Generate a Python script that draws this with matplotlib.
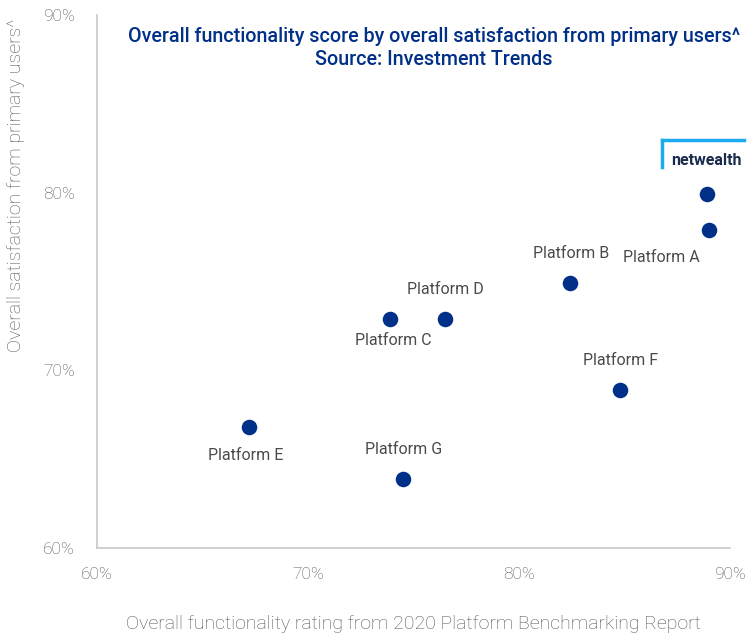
import matplotlib
matplotlib.use("Agg")
import matplotlib.pyplot as plt
from matplotlib.ticker import FuncFormatter

platforms = ["netwealth", "Platform A", "Platform B", "Platform C", "Platform D",
             "Platform E", "Platform F", "Platform G"]
functionality = [88.9, 89.0, 82.4, 73.9, 76.5, 67.2, 84.8, 74.5]
satisfaction = [79.9, 77.9, 74.9, 72.9, 72.9, 66.8, 68.9, 63.9]
x_ticks = [60, 70, 80, 90]
y_ticks = [60, 70, 80, 90]

label_offsets = {
    "Platform A": (-48, -28),
    "Platform B": (1, 30),
    "Platform C": (3, -22),
    "Platform D": (0, 29),
    "Platform E": (-3, -28),
    "Platform F": (0, 29),
    "Platform G": (1, 29),
}

navy = "#003087"
grey = "#555555"
plt.rcParams['font.family'] = ['Roboto', 'DejaVu Sans']

fig = plt.figure(figsize=(7.48, 6.33), dpi=100)
ax = fig.add_axes([0.1297, 0.1343, 0.8463, 0.842])

ax.scatter(functionality, satisfaction, s=125, color=navy, zorder=3, linewidths=0)

for name, xv, yv in zip(platforms, functionality, satisfaction):
    if name in label_offsets:
        ax.annotate(name, (xv, yv), xytext=label_offsets[name], textcoords="offset pixels",
                    ha="center", va="center", fontsize=11.5, color="#4a4a4a",
                    fontweight="normal")

ax.set_xlim(60, 90)
ax.set_ylim(60, 90)
ax.set_xticks(x_ticks)
ax.set_yticks(y_ticks)
fmt = FuncFormatter(lambda v, p: f"{v:.0f}%")
ax.xaxis.set_major_formatter(fmt)
ax.yaxis.set_major_formatter(fmt)
ax.tick_params(length=0, labelsize=12.5, labelcolor=grey, pad=14)
ax.tick_params(axis="y", pad=16)
for lbl in ax.get_xticklabels() + ax.get_yticklabels():
    lbl.set_fontweight("light")
for s in ["top", "right"]:
    ax.spines[s].set_visible(False)
for s in ["left", "bottom"]:
    ax.spines[s].set_color("#c8c8c8")
    ax.spines[s].set_linewidth(1.2)

fig.text(0.553, 1 - 624 / 633, "Overall functionality rating from 2020 Platform Benchmarking Report",
         ha="center", va="center", fontsize=14, color=grey, fontweight="light")
fig.text(0.022, 1 - 185 / 633, "Overall satisfaction from primary users^", rotation=90,
         ha="center", va="center", fontsize=14, color=grey, fontweight="light")

ax.text(0.532, 0.978, "Overall functionality score by overall satisfaction from primary users^\nSource: Investment Trends",
        transform=ax.transAxes, ha="center", va="top", fontsize=14.2, color=navy,
        fontweight="medium", linespacing=1.3)

# netwealth logo
x0, x1 = 662 / 748, 744 / 748
y0, y1 = 1 - 140 / 633, 1 - 167 / 633
fig.add_artist(plt.Line2D([x0, x1], [y0, y0], transform=fig.transFigure, color="#1eaaf1", lw=2.5))
fig.add_artist(plt.Line2D([x0, x0], [y0, y1], transform=fig.transFigure, color="#1eaaf1", lw=2.5))
fig.text(706 / 748, 1 - 161 / 633, "netwealth", ha="center", va="center", fontsize=11.5,
         color="#1a2b4c", fontweight="bold")

fig.savefig("out.png", dpi=100)
